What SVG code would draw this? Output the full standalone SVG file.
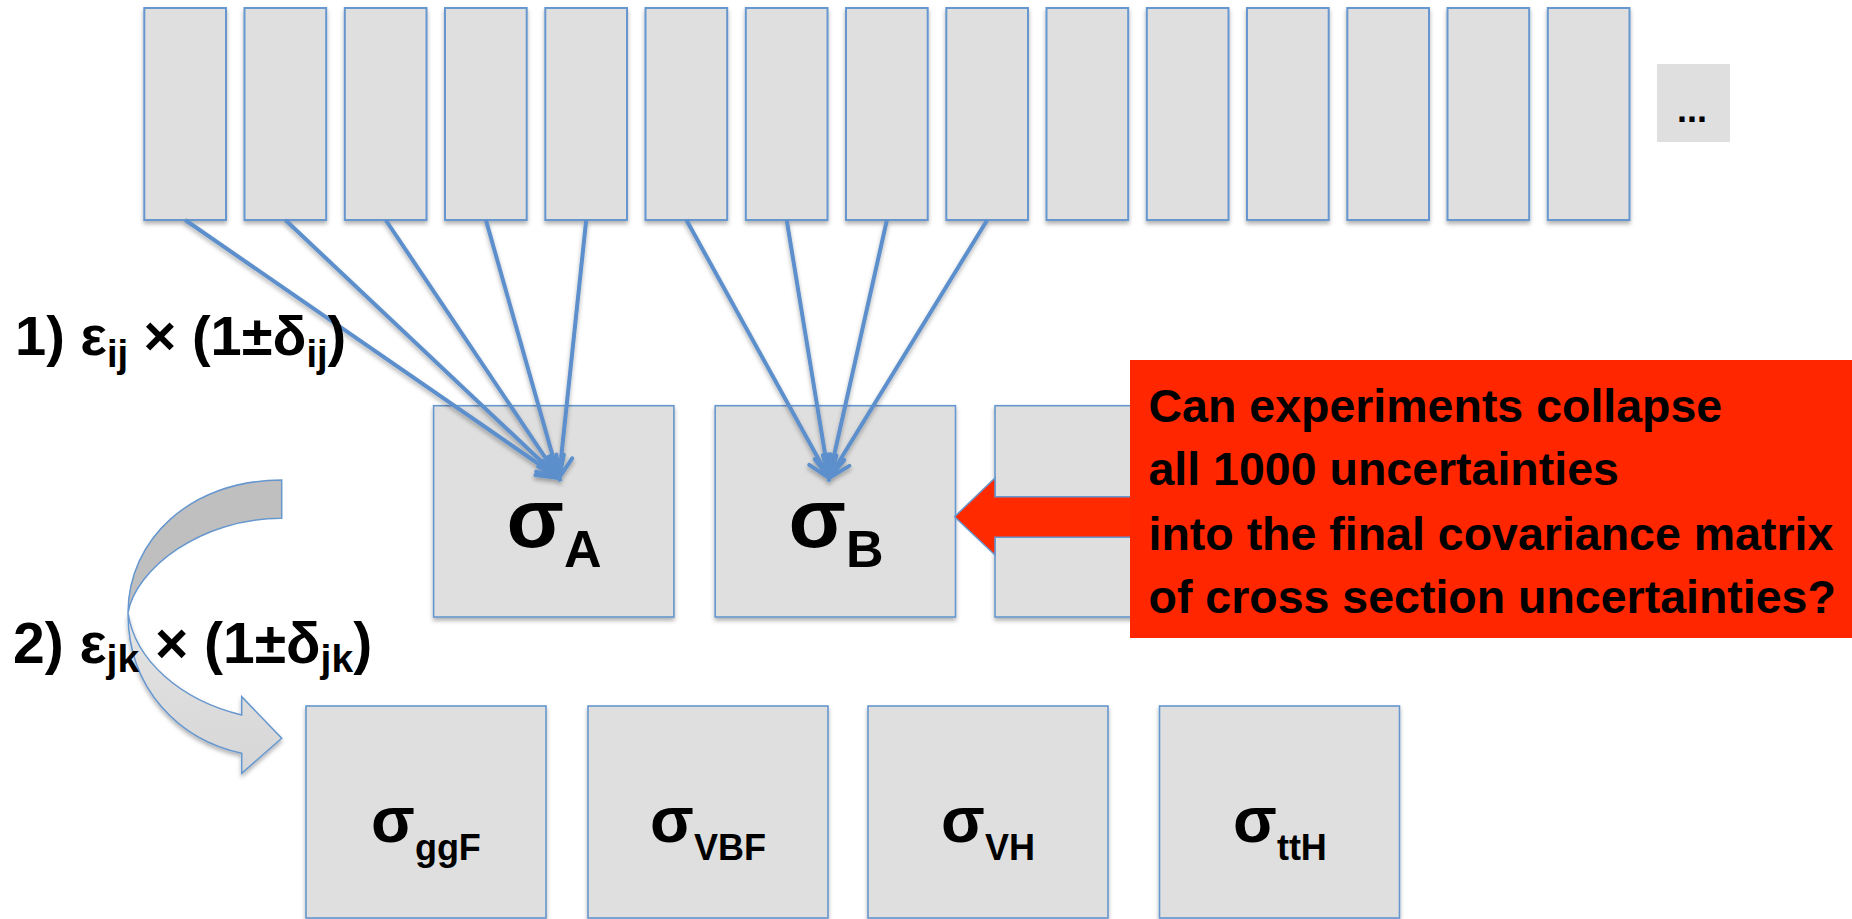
<svg xmlns="http://www.w3.org/2000/svg" width="1852" height="919" viewBox="0 0 1852 919">
<style>
.box{fill:#DFDFDF;stroke:#6697CF;stroke-width:2}
.mid{fill:#DFDFDF;stroke:#6697CF;stroke-width:1.6}
.con{stroke:#5B8FCB;stroke-width:4;fill:none;marker-end:url(#ah)}
.lbl{font-family:"Liberation Sans",Arial,sans-serif;font-weight:bold;fill:#000}
.q{font-family:"Liberation Sans",Arial,sans-serif;font-weight:bold;font-size:46.5px;fill:#000}
</style>
<defs>
<filter id="sh" x="-10%" y="-10%" width="130%" height="130%">
<feDropShadow dx="0" dy="3" stdDeviation="2" flood-color="#000" flood-opacity="0.3"/>
</filter>
<marker id="ah" markerUnits="userSpaceOnUse" viewBox="-26 -14 32 28" refX="0" refY="0" markerWidth="32" markerHeight="28" orient="auto">
<path d="M-21,-11 L0,0 L-21,11" fill="none" stroke="#5B8FCB" stroke-width="4" stroke-linejoin="miter" stroke-linecap="round"/>
</marker>
<linearGradient id="lg" x1="0" y1="0" x2="0" y2="1">
<stop offset="0" stop-color="#E4E4E4"/>
<stop offset="1" stop-color="#D6D6D6"/>
</linearGradient>
</defs>
<rect width="1852" height="919" fill="#FFFFFF"/>

<g id="top-rects" filter="url(#sh)">
<rect id="t1" class="box" x="144.3" y="8" width="81.7" height="212"/>
<rect id="t2" class="box" x="244.5" y="8" width="81.7" height="212"/>
<rect id="t3" class="box" x="344.8" y="8" width="81.7" height="212"/>
<rect id="t4" class="box" x="445" y="8" width="81.7" height="212"/>
<rect id="t5" class="box" x="545.3" y="8" width="81.7" height="212"/>
<rect id="t6" class="box" x="645.5" y="8" width="81.7" height="212"/>
<rect id="t7" class="box" x="745.8" y="8" width="81.7" height="212"/>
<rect id="t8" class="box" x="846" y="8" width="81.7" height="212"/>
<rect id="t9" class="box" x="946.3" y="8" width="81.7" height="212"/>
<rect id="t10" class="box" x="1046.5" y="8" width="81.7" height="212"/>
<rect id="t11" class="box" x="1146.8" y="8" width="81.7" height="212"/>
<rect id="t12" class="box" x="1247" y="8" width="81.7" height="212"/>
<rect id="t13" class="box" x="1347.3" y="8" width="81.7" height="212"/>
<rect id="t14" class="box" x="1447.5" y="8" width="81.7" height="212"/>
<rect id="t15" class="box" x="1547.8" y="8" width="81.7" height="212"/>
</g>
<g id="ellipsis">
<rect x="1657" y="64" width="73" height="78" fill="#DFDFDF"/>
<text x="1677" y="122" style="font-family:'Liberation Sans',Arial,sans-serif;font-weight:bold;font-size:36px;fill:#000">...</text>
</g>

<g id="sigmaA" filter="url(#sh)">
<rect class="mid" x="433.6" y="405.7" width="240.3" height="211.3"/>
</g>
<g id="sigmaB" filter="url(#sh)">
<rect class="mid" x="715.2" y="405.7" width="240.3" height="211.3"/>
</g>
<g id="sigmaC" filter="url(#sh)">
<rect class="mid" x="995" y="405.7" width="240.3" height="211.3"/>
</g>

<g id="red-arrow">
<polygon points="954.6,516.7 995,478 995,496.7 1140,496.7 1140,537.3 995,537.3 995,555" fill="#FF2A00" stroke="#6697CF" stroke-width="1.5"/>
</g>

<g id="question">
<rect x="1130" y="360" width="722" height="278" fill="#FF2600"/>
<text class="q" x="1148.5" y="421.7">Can experiments collapse</text>
<text class="q" x="1148.5" y="485">all 1000 uncertainties</text>
<text class="q" x="1148.5" y="550">into the final covariance matrix</text>
<text class="q" x="1148.5" y="613">of cross section uncertainties?</text>
</g>

<g id="ggF" filter="url(#sh)"><rect class="mid" x="306" y="706" width="240" height="212"/></g>
<g id="VBF" filter="url(#sh)"><rect class="mid" x="588" y="706" width="240" height="212"/></g>
<g id="VH" filter="url(#sh)"><rect class="mid" x="868" y="706" width="240" height="212"/></g>
<g id="ttH" filter="url(#sh)"><rect class="mid" x="1159.5" y="706" width="240" height="212"/></g>

<g id="curved-arrow" stroke="#6697CF" stroke-width="1.5" stroke-linejoin="miter">
<path d="M241.7,715 C180,700 135,660 128,613 C128,690 180,740 241.7,753.3 L241.7,773.3 L281.7,738.3 L241.7,696.7 Z" fill="url(#lg)" filter="url(#sh)"/>
<path d="M281.7,480 C190,480 128,540 128,613 C135,570 200,518 281.7,518.3 Z" fill="#BFBFBF"/>
</g>

<g id="connectors" filter="url(#sh)">
<line class="con" x1="185.2" y1="220" x2="559" y2="478"/>
<line class="con" x1="285.4" y1="220" x2="559" y2="478"/>
<line class="con" x1="385.7" y1="220" x2="559" y2="478"/>
<line class="con" x1="485.9" y1="220" x2="559" y2="478"/>
<line class="con" x1="586.2" y1="220" x2="559" y2="478"/>
<line class="con" x1="686.4" y1="220" x2="829" y2="478"/>
<line class="con" x1="786.7" y1="220" x2="829" y2="478"/>
<line class="con" x1="886.9" y1="220" x2="829" y2="478"/>
<line class="con" x1="987.2" y1="220" x2="829" y2="478"/>
</g>

<g id="node-labels">
<text class="lbl" x="554" y="546.7" text-anchor="middle" font-size="84">σ<tspan font-size="52" dy="20">A</tspan></text>
<text class="lbl" x="836" y="546.7" text-anchor="middle" font-size="84">σ<tspan font-size="52" dy="20">B</tspan></text>
<text class="lbl" x="426" y="842" text-anchor="middle" font-size="64">σ<tspan font-size="36" dy="18">ggF</tspan></text>
<text class="lbl" x="708" y="842" text-anchor="middle" font-size="64">σ<tspan font-size="36" dy="18">VBF</tspan></text>
<text class="lbl" x="988" y="842" text-anchor="middle" font-size="64">σ<tspan font-size="36" dy="18">VH</tspan></text>
<text class="lbl" x="1280" y="842" text-anchor="middle" font-size="64">σ<tspan font-size="36" dy="18">ttH</tspan></text>
</g>

<g id="step1">
<text class="lbl" x="15" y="355" font-size="56">1) ε<tspan font-size="38" dy="12">ij</tspan><tspan dy="-12"> × (1±δ</tspan><tspan font-size="38" dy="12">ij</tspan><tspan dy="-12">)</tspan></text>
</g>
<g id="step2">
<text class="lbl" x="13" y="663" font-size="57">2) ε<tspan font-size="39" dy="9">jk</tspan><tspan dy="-9"> × (1±δ</tspan><tspan font-size="39" dy="9">jk</tspan><tspan dy="-9">)</tspan></text>
</g>
</svg>
